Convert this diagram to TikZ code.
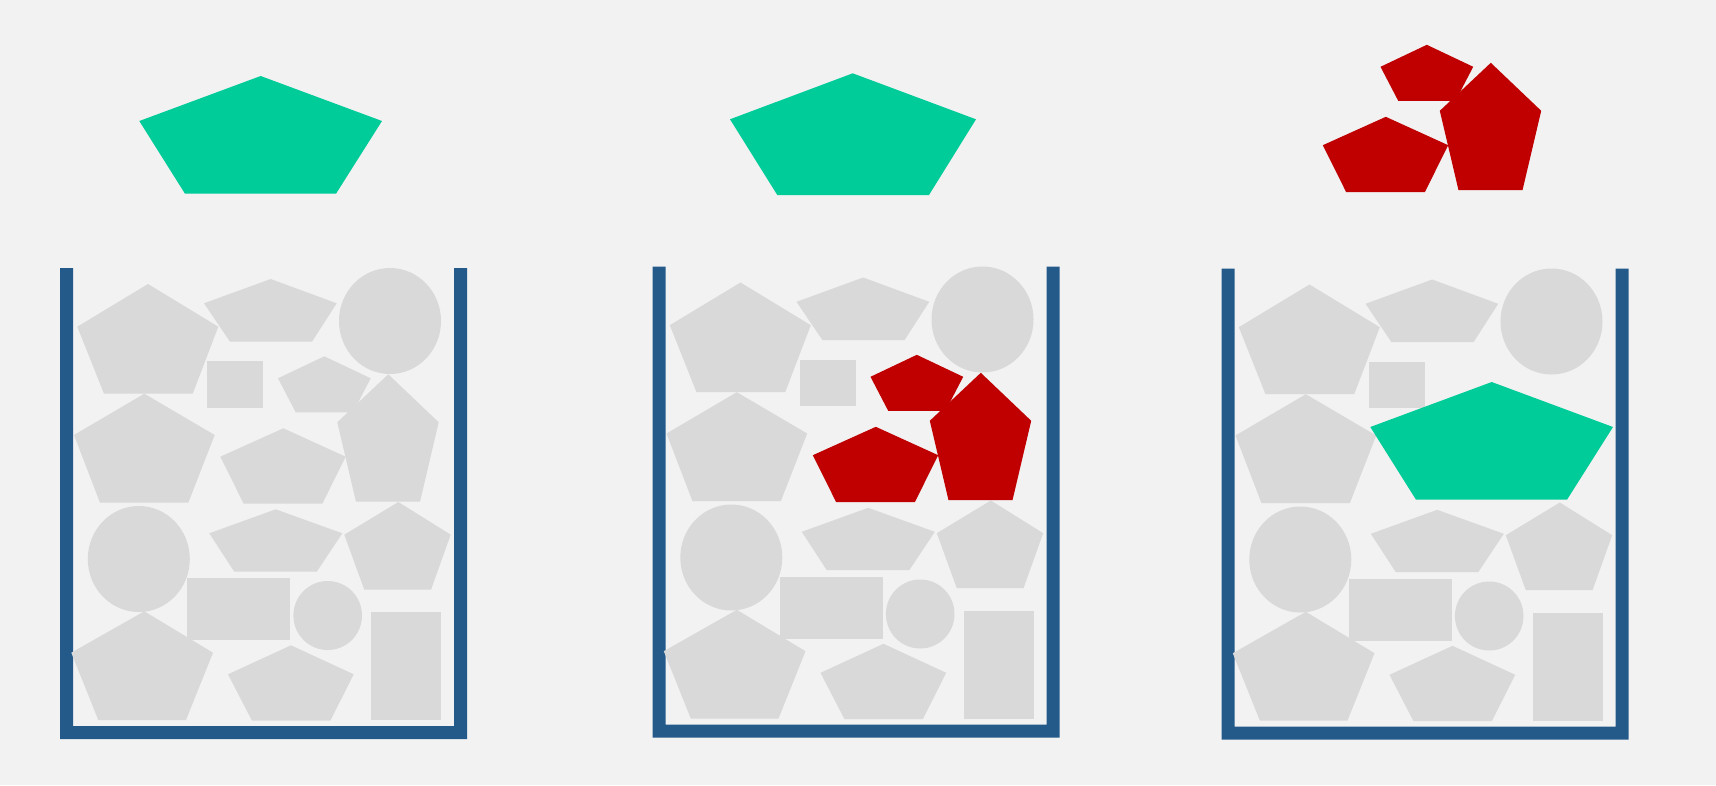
\documentclass[tikz,border=0pt]{standalone}
\definecolor{bgcol}{HTML}{F2F2F2}
\definecolor{shapegray}{HTML}{D9D9D9}
\definecolor{wallblue}{HTML}{235A8A}
\definecolor{mygreen}{HTML}{00CC99}
\definecolor{myred}{HTML}{C00000}
\tikzset{
  kept/.style={fill=shapegray},
  wall/.style={fill=wallblue},
  greenpent/.style={fill=mygreen},
  moved/.style={fill=shapegray}
}
\newcommand\binwalls{%
  \fill[wall] (60,268) -- (73,268) -- (73,726) -- (454,726) -- (454,268) -- (467,268) -- (467,739) -- (60,739) -- cycle;
}
\newcommand\keptshapes{%
  \fill[kept] (148,284) -- (218.3,326.7) -- (192.7,393.7) -- (104,393.7) -- (77.3,326.7) -- cycle;
  \fill[kept] (270.7,279) -- (336.7,303.3) -- (312,341.7) -- (230,341.7) -- (204,303.3) -- cycle;
  \fill[kept] (390,321) ellipse [x radius=51pt, y radius=53pt];
  \fill[kept] (207,361) rectangle (263,407.7);
  \fill[kept] (144.3,393.7) -- (214.7,435) -- (188.3,502.7) -- (100,502.7) -- (74,435) -- cycle;
  \fill[kept] (138.8,559) ellipse [x radius=51pt, y radius=53pt];
  \fill[kept] (275.7,509.3) -- (342.3,533.3) -- (316.7,571.7) -- (234.3,571.7) -- (209.3,533.3) -- cycle;
  \fill[kept] (398.3,502) -- (450.7,534.7) -- (431,589.7) -- (364.3,589.7) -- (344.3,534.7) -- cycle;
  \fill[kept] (187,578) rectangle (290,640);
  \fill[kept] (327.7,615.5) ellipse [x radius=34.3pt, y radius=34.5pt];
  \fill[kept] (371,612) rectangle (441,720);
  \fill[kept] (144.3,611.3) -- (213,652.7) -- (186,720) -- (98.3,720) -- (71.3,652.7) -- cycle;
  \fill[kept] (291,645.3) -- (353.7,674.3) -- (330.3,720.7) -- (252,720.7) -- (228,674.3) -- cycle;
}
\newcommand\movedshapes{%
  \fill[moved] (324.3,356.3) -- (370.7,378.3) -- (353,412.3) -- (295.7,412.3) -- (278,378.3) -- cycle;
  \fill[moved] (388.3,374.3) -- (438.7,422.3) -- (420,501.7) -- (356,501.7) -- (337.3,422.3) -- cycle;
  \fill[moved] (283.3,428.3) -- (345.7,456.7) -- (322.3,503.7) -- (243.7,503.7) -- (220.3,456.7) -- cycle;
}
\begin{document}
\begin{tikzpicture}[x=1pt,y=-1pt]
\fill[bgcol] (0,0) rectangle (1716,785);
\useasboundingbox (0,0) rectangle (1716,785);
% first bin
\begin{scope}
  \binwalls
  \keptshapes
  \movedshapes
\end{scope}
\fill[greenpent] (260.7,76) -- (382,121) -- (336,193.7) -- (185,193.7) -- (139.3,121) -- cycle;
% second bin
\begin{scope}[shift={(592.5,-1.5)}, moved/.style={fill=myred}]
  \binwalls
  \keptshapes
  \movedshapes
\end{scope}
\fill[greenpent] (852.7,73.3) -- (976,119.3) -- (929,195) -- (777.3,195) -- (730,119.3) -- cycle;
% third bin
\begin{scope}[shift={(1161.5,0.5)}]
  \binwalls
  \keptshapes
\end{scope}
\fill[greenpent] (1491.7,382) -- (1613,427) -- (1567,499.7) -- (1416,499.7) -- (1370.3,427) -- cycle;
\begin{scope}[shift={(1102.5,-311.5)}, moved/.style={fill=myred}]
  \movedshapes
\end{scope}
\end{tikzpicture}
\end{document}
